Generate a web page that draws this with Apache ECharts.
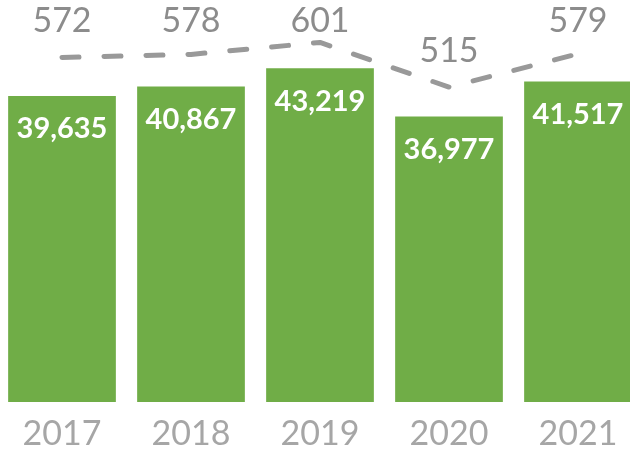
<!DOCTYPE html>
<html>
<head>
<meta charset="utf-8">
<script src="https://cdn.jsdelivr.net/npm/echarts@6/dist/echarts.min.js"></script>
<style>
  html, body { margin: 0; padding: 0; background: #ffffff; }
  #chart { width: 630px; height: 454px; }
</style>
</head>
<body>
<div id="chart"></div>
<script>
// Yearly totals (bars) and the secondary measure (dashed line)
const years = ['2017', '2018', '2019', '2020', '2021'];
const totals = [39635, 40867, 43219, 36977, 41517];
const secondary = [572, 578, 601, 515, 579];

const FONT = 'Lato, "Open Sans", "Noto Sans", sans-serif';
const LABEL_MIN_CENTER = 21.5; // value labels never rise above this line
const chart = echarts.init(document.getElementById('chart'));

chart.setOption({
  animation: false,
  backgroundColor: '#ffffff',
  grid: { left: -2.5, right: -12.5, top: 16, bottom: 52, containLabel: false, outerBoundsMode: 'none' },
  xAxis: {
    type: 'category',
    data: years,
    axisLine: { show: false },
    axisTick: { show: false },
    axisLabel: {
      color: '#a6a6a6',
      fontFamily: FONT,
      fontSize: 34,
      lineHeight: 34,
      margin: 15
    }
  },
  yAxis: [
    { type: 'value', min: 0, max: 50000, show: false, splitLine: { show: false } },
    { type: 'value', min: -92, max: 652, show: false, splitLine: { show: false } }
  ],
  series: [
    {
      type: 'bar',
      data: totals,
      barCategoryGap: '16.5%',
      itemStyle: { color: '#70ad47' },
      label: {
        show: true,
        position: 'insideTop',
        distance: 18,
        color: '#ffffff',
        fontFamily: FONT,
        fontWeight: 'bold',
        fontSize: 29,
        lineHeight: 30,
        formatter: p => p.value.toLocaleString('en-US')
      }
    },
    {
      type: 'line',
      yAxisIndex: 1,
      data: secondary,
      symbol: 'circle',
      symbolSize: 1,
      showSymbol: true,
      itemStyle: { color: 'rgba(0,0,0,0)' },
      clip: false,
      lineStyle: { color: '#999999', width: 5, type: [17, 25], cap: 'round', join: 'round' },
      label: {
        show: true,
        position: 'top',
        distance: 18,
        color: '#8c8c8c',
        fontFamily: FONT,
        fontSize: 34,
        lineHeight: 36
      },
      labelLayout: function (params) {
        const r = params.labelRect;
        return {
          x: r.x + r.width / 2,
          y: Math.max(r.y + r.height / 2, LABEL_MIN_CENTER),
          align: 'center',
          verticalAlign: 'middle'
        };
      }
    }
  ]
});
</script>
</body>
</html>
